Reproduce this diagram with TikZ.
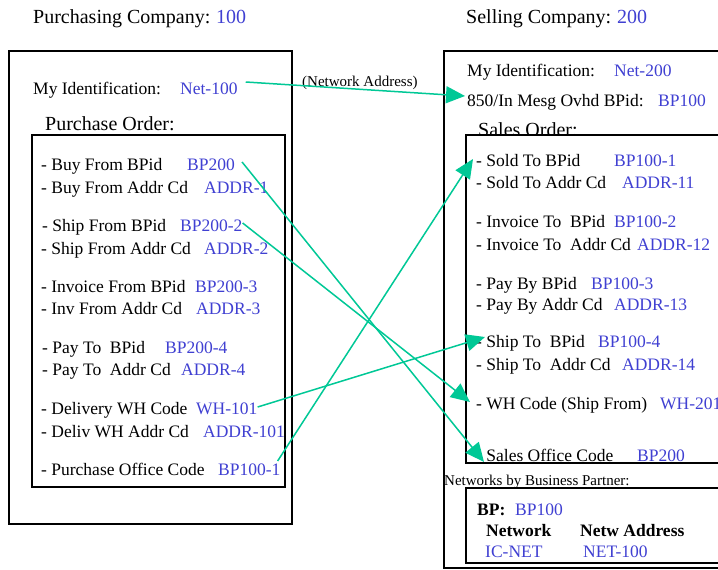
\documentclass[tikz,border=0pt]{standalone}
\usepackage{fontspec}
\setmainfont{Liberation Serif}
\usetikzlibrary{arrows.meta}
\definecolor{myblue}{RGB}{64,64,210}
\definecolor{mygreen}{RGB}{0,200,150}
\tikzset{
  lbl/.style={anchor=mid west, inner sep=0pt, yshift=-3pt, font=\fontsize{17.5}{20}\selectfont},
  val/.style={lbl, text=myblue},
  ttl/.style={anchor=mid west, inner sep=0pt, yshift=-3pt, font=\fontsize{20}{24}\selectfont},
  small/.style={anchor=mid west, inner sep=0pt, yshift=-3pt, font=\fontsize{15}{18}\selectfont},
  bold/.style={lbl, font=\fontsize{17.5}{20}\selectfont\bfseries},
  frame/.style={draw, line width=1.4pt, fill=white},
  link/.style={draw=mygreen, line width=1.5pt, -{Triangle[length=19pt,width=17pt]}},
}
\begin{document}
\begin{tikzpicture}[x=1pt,y=-1pt]
\useasboundingbox (0,0) rectangle (718,570);
\clip (0,0) rectangle (718,570);
% titles
\node[ttl] (pc) at (33,18) {Purchasing Company:};
\node[ttl, text=myblue] (pcv) at (216,18) {100};
\node[ttl] (sc) at (466,18) {Selling Company:};
\node[ttl, text=myblue] (scv) at (617,18) {200};
% left boxes
\draw[frame] (9,51) rectangle (292,524);
\node[lbl] (myid) at (33,89) {My Identification:};
\node[val] (net100) at (180,89) {Net-100};
\node[ttl] (po) at (45,125) {Purchase Order:};
\draw[frame] (32,135) rectangle (285,487);
\node[lbl] (l1) at (41,165) {- Buy From BPid};
\node[val] (bp200) at (187,165) {BP200};
\node[lbl] (l2) at (41,188) {- Buy From Addr Cd};
\node[val] (a1) at (204,188) {ADDR-1};
\node[lbl] (l3) at (42,226) {- Ship From BPid};
\node[val] (bp2002) at (180,226) {BP200-2};
\node[lbl] (l4) at (41,249) {- Ship From Addr Cd};
\node[val] (a2) at (204,249) {ADDR-2};
\node[lbl] (l5) at (41,287) {- Invoice From BPid};
\node[val] (bp2003) at (195,287) {BP200-3};
\node[lbl] (l6) at (41,309) {- Inv From Addr Cd};
\node[val] (a3) at (196,309) {ADDR-3};
\node[lbl] (l7) at (42,348) {- Pay To\ \ BPid};
\node[val] (bp2004) at (165,348) {BP200-4};
\node[lbl] (l8) at (42,370) {- Pay To\ \ Addr Cd};
\node[val] (a4) at (181,370) {ADDR-4};
\node[lbl] (l9) at (41,409) {- Delivery WH Code};
\node[val] (wh101) at (196,409) {WH-101};
\node[lbl] (l10) at (41,432) {- Deliv WH Addr Cd};
\node[val] (a101) at (203,432) {ADDR-101};
\node[lbl] (l11) at (41,470) {- Purchase Office Code};
\node[val] (bp1001) at (218,470) {BP100-1};
% right boxes
\draw[frame] (444,51) rectangle (740,568);
\node[lbl] (rid) at (467,71) {My Identification:};
\node[val] (net200) at (614,71) {Net-200};
\node[lbl] (ovhd) at (467,101) {850/In Mesg Ovhd BPid:};
\node[val] (ovhdv) at (658,101) {BP100};
\node[ttl] (so) at (478,131) {Sales Order:};
\draw[frame] (466,135) rectangle (740,463);
\node[lbl] (r1) at (476,161) {- Sold To BPid};
\node[val] (rbp1) at (614,161) {BP100-1};
\node[lbl] (r2) at (476,183) {- Sold To Addr Cd};
\node[val] (ra11) at (622,183) {ADDR-11};
\node[lbl] (r3) at (476,222) {- Invoice To\ \ BPid};
\node[val] (rbp2) at (614,222) {BP100-2};
\node[lbl] (r4) at (476,245) {- Invoice To\ \ Addr Cd};
\node[val] (ra12) at (637,245) {ADDR-12};
\node[lbl] (r5) at (476,284) {- Pay By BPid};
\node[val] (rbp3) at (591,284) {BP100-3};
\node[lbl] (r6) at (476,305) {- Pay By Addr Cd};
\node[val] (ra13) at (614,305) {ADDR-13};
\node[lbl] (r7) at (476,342) {- Ship To\ \ BPid};
\node[val] (rbp4) at (598,342) {BP100-4};
\node[lbl] (r8) at (476,365) {- Ship To\ \ Addr Cd};
\node[val] (ra14) at (622,365) {ADDR-14};
\node[lbl] (r9) at (476,404) {- WH Code (Ship From)};
\node[val] (rwh) at (660,404) {WH-201};
\node[lbl] (r10) at (476,456) {- Sales Office Code};
\node[val] (rbp200) at (637,456) {BP200};
% networks
\node[small] (nbp) at (444,480) {Networks by Business Partner:};
\draw[frame] (466,488) rectangle (740,563);
\node[bold] (bp) at (477,510) {BP:};
\node[val] (bpv) at (515,510) {BP100};
\node[bold] (nw) at (486,531) {Network};
\node[bold] (na) at (580,531) {Netw Address};
\node[val] (icnet) at (485,552) {IC-NET};
\node[val] (net100b) at (583,552) {NET-100};
% arrows
\node[small] (nalbl) at (302,81) {(Network Address)};
\draw[link] ([xshift=8pt,yshift=10pt]net100.mid east) -- ([xshift=-2pt,yshift=8pt]ovhd.mid west);
\draw[link] ([xshift=7pt,yshift=6pt]bp200.mid east) -- ([xshift=8pt,yshift=-3pt]r10.mid west);
\draw[link] ([xshift=0pt,yshift=6pt]bp2002.mid east) -- ([xshift=-6pt,yshift=5pt]r9.mid west);
\draw[link] ([xshift=0pt,yshift=5pt]wh101.mid east) -- ([xshift=9pt,yshift=8pt]r7.mid west);
\draw[link] ([xshift=-3pt,yshift=12pt]bp1001.mid east) -- ([xshift=-3pt,yshift=5pt]r1.mid west);
\end{tikzpicture}
\end{document}
